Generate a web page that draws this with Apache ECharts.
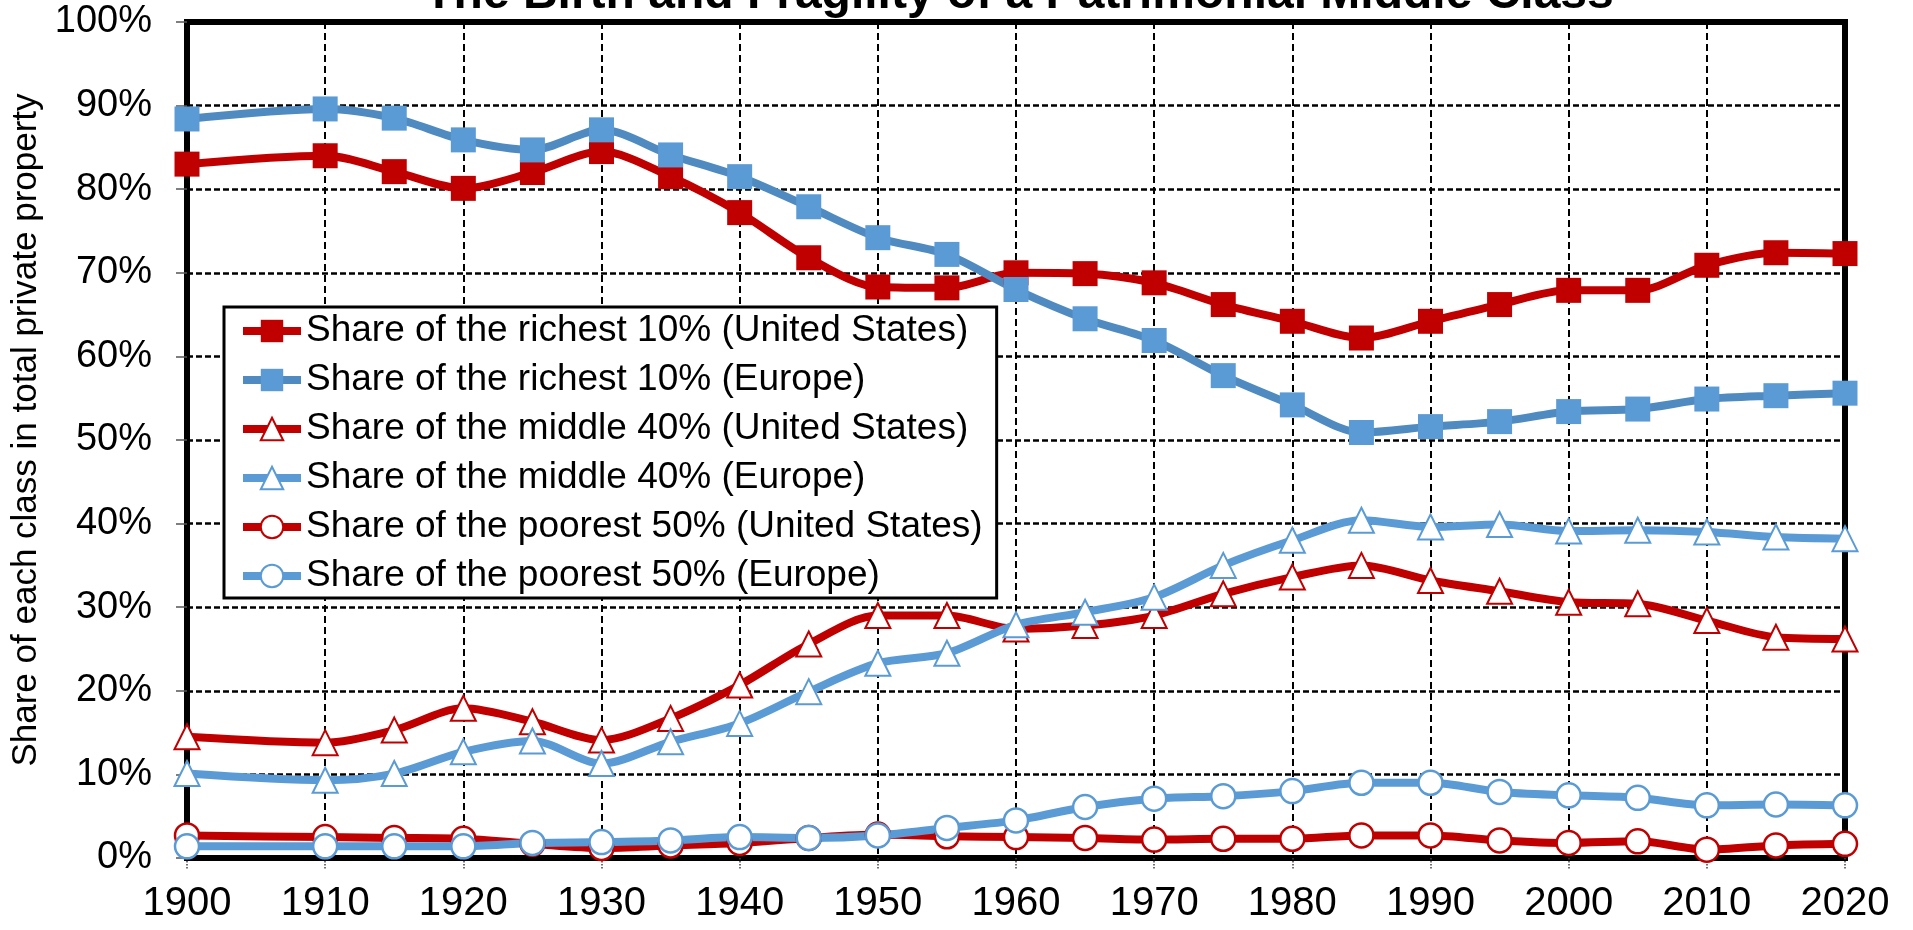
<!DOCTYPE html>
<html>
<head>
<meta charset="utf-8">
<script src="https://cdn.jsdelivr.net/npm/echarts@6/dist/echarts.min.js"></script>
<style>
html,body{margin:0;padding:0;background:#fff;}
#c{width:1913px;height:930px;}
</style>
</head>
<body>
<div id="c"></div>
<script>
const years = [1900,1910,1915,1920,1925,1930,1935,1940,1945,1950,1955,1960,1965,1970,1975,1980,1985,1990,1995,2000,2005,2010,2015,2020];
const usTop10 = [83.0,84.0,82.1,80.1,82.0,84.5,81.5,77.2,71.8,68.3,68.2,70.0,69.9,68.8,66.2,64.2,62.2,64.2,66.2,67.9,67.9,70.9,72.4,72.3];
const euTop10 = [88.4,89.6,88.5,85.9,84.7,87.1,84.1,81.5,77.9,74.2,72.2,68.0,64.5,61.9,57.7,54.2,50.9,51.6,52.2,53.4,53.7,54.9,55.3,55.6];
const usMid40 = [14.5,13.8,15.3,17.9,16.3,14.1,16.7,20.7,25.6,29.0,29.0,27.4,27.8,29.0,31.6,33.6,35.0,33.2,31.9,30.6,30.4,28.4,26.4,26.2];
const euMid40 = [10.1,9.3,10.1,12.7,14.0,11.3,13.9,16.1,19.9,23.3,24.5,27.9,29.4,31.2,35.0,38.0,40.4,39.6,39.9,39.1,39.2,39.0,38.4,38.2];
const usBot50 = [2.7,2.5,2.4,2.3,1.7,1.2,1.5,1.8,2.4,2.8,2.6,2.5,2.4,2.2,2.3,2.3,2.7,2.7,2.1,1.8,2.0,1.0,1.5,1.7];
const euBot50 = [1.4,1.4,1.4,1.4,1.8,1.9,2.1,2.5,2.4,2.7,3.6,4.5,6.1,7.1,7.4,8.0,9.0,9.0,7.9,7.5,7.2,6.3,6.4,6.3];
const seriesNames = [
  'Share of the richest 10% (United States)',
  'Share of the richest 10% (Europe)',
  'Share of the middle 40% (United States)',
  'Share of the middle 40% (Europe)',
  'Share of the poorest 50% (United States)',
  'Share of the poorest 50% (Europe)'
];
const titleText = 'The Birth and Fragility of a Patrimonial Middle Class';
const yAxisTitle = 'Share of each class in total private property';

const RED = '#C00000', BLUE = '#5B9BD5', BLUE_DARK = '#4F8BC0';
const FONT = "'Liberation Sans', Arial, sans-serif";
const pair = arr => years.map((y, i) => [y, arr[i]]);

function mk(name, data, lineColor, symbol, fill, border, size, bw) {
  return {
    name, type: 'line', data: pair(data), smooth: 0.3,
    symbol, symbolSize: size,
    lineStyle: { color: lineColor, width: 8 },
    itemStyle: { color: fill, borderColor: border, borderWidth: bw },
    emphasis: { disabled: true }
  };
}

const chart = echarts.init(document.getElementById('c'));
chart.setOption({
  animation: false,
  backgroundColor: '#fff',
  title: {
    text: titleText, left: 1014, top: -34, textAlign: 'center',
    textStyle: { fontFamily: FONT, fontSize: 48, fontWeight: 'bold', color: '#000', lineHeight: 48 }
  },
  grid: { left: 187, right: 68, top: 22, bottom: 72, show: true, borderColor: '#000', borderWidth: 6,
          containLabel: false, outerBoundsMode: 'none' },
  legend: {
    orient: 'vertical', left: 224, top: 307,
    data: seriesNames,
    itemWidth: 58, itemHeight: 28, itemGap: 9,
    padding: [4, 14, 2, 15],
    backgroundColor: '#fff', borderColor: '#000', borderWidth: 3,
    lineStyle: { width: 8 },
    textStyle: { fontFamily: FONT, fontSize: 37, color: '#000', lineHeight: 40 },
    selectedMode: false
  },
  xAxis: {
    type: 'value', min: 1900, max: 2020, interval: 10,
    axisLine: { show: true, lineStyle: { color: '#000', width: 6 } },
    axisTick: { show: true, length: 12, lineStyle: { color: '#444', width: 1.5, type: 'dotted' } },
    axisLabel: { fontFamily: FONT, fontSize: 40, color: '#000', margin: 26, lineHeight: 40, formatter: v => String(v) },
    splitLine: { show: true, lineStyle: { color: '#000', width: 2, type: [7, 4] } }
  },
  yAxis: {
    type: 'value', min: 0, max: 100, interval: 10,
    name: yAxisTitle, nameLocation: 'middle', nameGap: 139, nameRotate: 90,
    nameTextStyle: { fontFamily: FONT, fontSize: 35, color: '#000', padding: [0, 0, 0, 20] },
    axisLine: { show: true, lineStyle: { color: '#000', width: 6 } },
    axisTick: { show: true, length: 11, lineStyle: { color: '#555', width: 1.5 } },
    axisLabel: { fontFamily: FONT, fontSize: 38, color: '#000', margin: 35, formatter: '{value}%' },
    splitLine: { show: true, lineStyle: { color: '#000', width: 2.5, type: [6, 3] } }
  },
  series: [
    mk(seriesNames[0], usTop10, RED, 'rect', RED, RED, 25, 0),
    mk(seriesNames[1], euTop10, BLUE_DARK, 'rect', BLUE, BLUE, 25, 0),
    mk(seriesNames[2], usMid40, RED, 'triangle', '#fff', RED, [25, 25], 2),
    mk(seriesNames[3], euMid40, BLUE, 'triangle', '#fff', BLUE, [25, 25], 2),
    mk(seriesNames[4], usBot50, RED, 'circle', '#fff', RED, 24, 2.5),
    mk(seriesNames[5], euBot50, BLUE, 'circle', '#fff', BLUE, 24, 2.5)
  ]
});
</script>
</body>
</html>
